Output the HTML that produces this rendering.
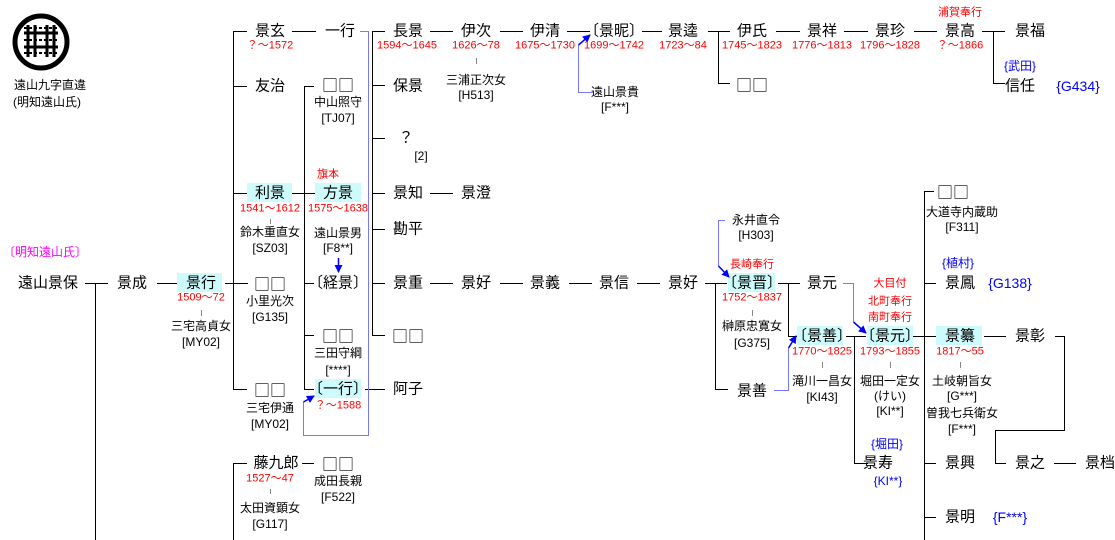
<!DOCTYPE html>
<html><head><meta charset="utf-8">
<style>
html,body{margin:0;padding:0;background:#fff;}
#c{position:relative;width:1115px;height:540px;overflow:hidden;font-family:"Liberation Sans","Noto Sans CJK JP",sans-serif;color:#000;}
.t{position:absolute;transform:translate(-50%,-50%);white-space:nowrap;font-size:15px;line-height:1;}
.s{font-size:12px;}
.r{color:#f00;font-size:11px;}
.b{color:#00f;font-size:12px;}
.bb{color:#00f;font-size:14px;}
.m{color:#f0f;font-size:12px;}
.q{font-family:"Noto Sans CJK JP",sans-serif;font-size:16px;}
.bx{position:absolute;background:#cdfafa;}
svg{position:absolute;left:0;top:0;}
</style></head><body><div id="c">
<div class="bx" style="left:177px;top:273px;width:45px;height:19px"></div>
<div class="bx" style="left:247px;top:183px;width:45px;height:19px"></div>
<div class="bx" style="left:315px;top:183px;width:46px;height:19px"></div>
<div class="bx" style="left:315px;top:379px;width:46px;height:19px"></div>
<div class="bx" style="left:728px;top:273px;width:47px;height:19px"></div>
<div class="bx" style="left:797px;top:326px;width:46px;height:19px"></div>
<div class="bx" style="left:867px;top:326px;width:46px;height:19px"></div>
<div class="bx" style="left:936px;top:326px;width:46px;height:19px"></div>
<svg width="1115" height="540" viewBox="0 0 1115 540">
<defs><marker id="a" markerWidth="8" markerHeight="8" refX="7" refY="4" orient="auto" markerUnits="userSpaceOnUse"><path d="M0,0 L8,4 L0,8 z" fill="#00f"/></marker></defs>
<circle cx="41" cy="42" r="26" fill="none" stroke="#000" stroke-width="5"/>
<g stroke="#000" stroke-width="3">
<line x1="28" y1="25" x2="28" y2="57"/><line x1="35" y1="25" x2="35" y2="57"/><line x1="47" y1="25" x2="47" y2="57"/><line x1="54" y1="25" x2="54" y2="57"/>
<line x1="24" y1="33" x2="58" y2="33"/><line x1="24" y1="47" x2="58" y2="47"/>
</g>
<g stroke="#000" stroke-width="2" stroke-dasharray="3,2">
<line x1="24" y1="28" x2="58" y2="28"/><line x1="24" y1="40" x2="58" y2="40"/><line x1="24" y1="53" x2="58" y2="53"/>
</g>
<g stroke="#000" stroke-width="1" fill="none">
<path d="M85,283.5H108M95.5,283V540M157,283.5H177M225,283.5H248"/>
<path d="M233.5,31V389M233,31.5H247M233,86.5H247M233,193.5H247M233,389.5H247M233.5,463V540M233,463.5H247"/>
<path d="M292,31.5H316M292,193.5H315M302,463.5H314"/>
<path d="M304.5,86V389M304,86.5H314M304,283.5H314M304,335.5H314M304,389.5H314"/>
<path d="M372.5,31V335M372,31.5H385M372,85.5H385M372,138.5H385M372,193.5H385M372,229.5H385M372,283.5H385M372,335.5H385M365,389.5H385"/>
<path d="M430,31.5H453M500,31.5H523M567,31.5H590M642,31.5H662M708,31.5H730M718.5,31V83M718,83.5H730"/>
<path d="M776,31.5H800M844,31.5H868M914,31.5H937M982,31.5H1005M993.5,31V83M993,83.5H1005"/>
<path d="M430,193.5H453"/>
<path d="M430,283.5H453M500,283.5H523M569,283.5H592M637,283.5H660M705,283.5H727M715.5,283V389M715,389.5H728"/>
<path d="M778,283.5H800M788.5,283V336M788,336.5H797M846,336.5H866M854.5,336V463M854,463.5H868"/>
<path d="M913,336.5H936M924.5,191V540M924,191.5H934M924,283.5H936M924,463.5H936M924,517.5H936"/>
<path d="M984,336.5H1006M1055,336.5H1064.5V430.5H995.5V463.5H1006M1054,463.5H1076"/>
</g>
<g stroke="#888" stroke-width="1">
<path d="M201.5,310V316M270.5,219V224M476.5,58V64M752.5,310V316M270.5,489V494M822.5,362V368M890.5,362V368M960.5,362V368"/>
</g>
<g stroke="#77f" stroke-width="1" fill="none">
<path d="M360,31.5H368.5V435.5H303.5V402" />
<path d="M593,92.5H578.5V45" />
<path d="M725,220.5H718.5V266" />
<path d="M774,390.5H788.5V348" />
<path d="M843,283.5H853.5V322" />
</g>
<g stroke="#00f" stroke-width="1.5" fill="none">
<line x1="303.5" y1="402" x2="314" y2="396" marker-end="url(#a)"/>
<line x1="578.5" y1="45" x2="590" y2="35" marker-end="url(#a)"/>
<line x1="718.5" y1="266" x2="729" y2="277" marker-end="url(#a)"/>
<line x1="788.5" y1="348" x2="796" y2="336" marker-end="url(#a)"/>
<line x1="853.5" y1="322" x2="866" y2="333" marker-end="url(#a)"/>
<line x1="338.5" y1="258" x2="338.5" y2="272" marker-end="url(#a)"/>
</g>
</svg>
<div class="t s" style="left:50px;top:85px">遠山九字直違</div>
<div class="t s" style="left:47px;top:102px">(明知遠山氏)</div>
<div class="t m" style="left:45px;top:252px">〔明知遠山氏〕</div>

<div class="t" style="left:48px;top:283px">遠山景保</div>
<div class="t" style="left:132px;top:283px">景成</div>
<div class="t" style="left:201px;top:283px">景行</div>
<div class="t r" style="left:201px;top:298px">1509〜72</div>
<div class="t s" style="left:201px;top:326px">三宅高貞女</div>
<div class="t s" style="left:201px;top:342px">[MY02]</div>

<div class="t" style="left:270px;top:31px">景玄</div>
<div class="t r" style="left:270px;top:46px">？〜1572</div>
<div class="t" style="left:270px;top:86px">友治</div>
<div class="t" style="left:270px;top:193px">利景</div>
<div class="t r" style="left:270px;top:209px">1541〜1612</div>
<div class="t s" style="left:270px;top:232px">鈴木重直女</div>
<div class="t s" style="left:270px;top:248px">[SZ03]</div>
<div class="t q" style="left:270px;top:283px">□□</div>
<div class="t s" style="left:270px;top:301px">小里光次</div>
<div class="t s" style="left:270px;top:317px">[G135]</div>
<div class="t q" style="left:270px;top:389px">□□</div>
<div class="t s" style="left:270px;top:408px">三宅伊通</div>
<div class="t s" style="left:270px;top:424px">[MY02]</div>
<div class="t" style="left:276px;top:463px">藤九郎</div>
<div class="t r" style="left:270px;top:479px">1527〜47</div>
<div class="t s" style="left:270px;top:508px">太田資顕女</div>
<div class="t s" style="left:270px;top:524px">[G117]</div>

<div class="t" style="left:340px;top:31px">一行</div>
<div class="t q" style="left:338px;top:84px">□□</div>
<div class="t s" style="left:338px;top:102px">中山照守</div>
<div class="t s" style="left:338px;top:118px">[TJ07]</div>
<div class="t r" style="left:328px;top:175px">旗本</div>
<div class="t" style="left:338px;top:193px">方景</div>
<div class="t r" style="left:338px;top:209px">1575〜1638</div>
<div class="t s" style="left:338px;top:233px">遠山景男</div>
<div class="t s" style="left:338px;top:248px">[F8**]</div>
<div class="t" style="left:338px;top:283px">〔経景〕</div>
<div class="t q" style="left:338px;top:335px">□□</div>
<div class="t s" style="left:338px;top:353px">三田守綱</div>
<div class="t s" style="left:338px;top:370px">[****]</div>
<div class="t" style="left:338px;top:389px">〔一行〕</div>
<div class="t r" style="left:338px;top:406px">？〜1588</div>
<div class="t q" style="left:338px;top:463px">□□</div>
<div class="t s" style="left:338px;top:481px">成田長親</div>
<div class="t s" style="left:338px;top:497px">[F522]</div>

<div class="t" style="left:408px;top:31px">長景</div>
<div class="t r" style="left:407px;top:46px">1594〜1645</div>
<div class="t" style="left:408px;top:86px">保景</div>
<div class="t" style="left:406px;top:138px">？</div>
<div class="t s" style="left:421px;top:156px">[2]</div>
<div class="t" style="left:408px;top:193px">景知</div>
<div class="t" style="left:408px;top:229px">勘平</div>
<div class="t" style="left:408px;top:283px">景重</div>
<div class="t q" style="left:408px;top:335px">□□</div>
<div class="t" style="left:408px;top:389px">阿子</div>

<div class="t" style="left:476px;top:31px">伊次</div>
<div class="t r" style="left:476px;top:46px">1626〜78</div>
<div class="t s" style="left:476px;top:80px">三浦正次女</div>
<div class="t s" style="left:476px;top:95px">[H513]</div>
<div class="t" style="left:545px;top:31px">伊清</div>
<div class="t r" style="left:545px;top:46px">1675〜1730</div>
<div class="t" style="left:614px;top:31px">〔景昵〕</div>
<div class="t r" style="left:614px;top:46px">1699〜1742</div>
<div class="t s" style="left:615px;top:92px">遠山景貴</div>
<div class="t s" style="left:615px;top:107px">[F***]</div>
<div class="t" style="left:683px;top:31px">景逵</div>
<div class="t r" style="left:683px;top:46px">1723〜84</div>
<div class="t" style="left:752px;top:31px">伊氏</div>
<div class="t r" style="left:752px;top:46px">1745〜1823</div>
<div class="t q" style="left:752px;top:84px">□□</div>
<div class="t" style="left:822px;top:31px">景祥</div>
<div class="t r" style="left:822px;top:46px">1776〜1813</div>
<div class="t" style="left:890px;top:31px">景珍</div>
<div class="t r" style="left:890px;top:46px">1796〜1828</div>
<div class="t r" style="left:960px;top:13px">浦賀奉行</div>
<div class="t" style="left:960px;top:31px">景高</div>
<div class="t r" style="left:960px;top:46px">？〜1866</div>
<div class="t" style="left:1030px;top:31px">景福</div>
<div class="t b" style="left:1020px;top:66px">{武田}</div>
<div class="t" style="left:1020px;top:86px">信任</div>
<div class="t bb" style="left:1078px;top:86px">{G434}</div>

<div class="t" style="left:476px;top:193px">景澄</div>
<div class="t" style="left:476px;top:283px">景好</div>
<div class="t" style="left:545px;top:283px">景義</div>
<div class="t" style="left:614px;top:283px">景信</div>
<div class="t" style="left:683px;top:283px">景好</div>

<div class="t s" style="left:756px;top:220px">永井直令</div>
<div class="t s" style="left:756px;top:235px">[H303]</div>
<div class="t r" style="left:752px;top:265px">長崎奉行</div>
<div class="t" style="left:752px;top:283px">〔景晋〕</div>
<div class="t r" style="left:752px;top:298px">1752〜1837</div>
<div class="t s" style="left:752px;top:326px">榊原忠寛女</div>
<div class="t s" style="left:752px;top:343px">[G375]</div>
<div class="t" style="left:752px;top:391px">景善</div>
<div class="t" style="left:822px;top:283px">景元</div>
<div class="t" style="left:822px;top:336px">〔景善〕</div>
<div class="t r" style="left:822px;top:352px">1770〜1825</div>
<div class="t s" style="left:822px;top:381px">滝川一昌女</div>
<div class="t s" style="left:822px;top:397px">[KI43]</div>

<div class="t r" style="left:890px;top:284px">大目付</div>
<div class="t r" style="left:890px;top:302px">北町奉行</div>
<div class="t r" style="left:890px;top:318px">南町奉行</div>
<div class="t" style="left:890px;top:336px">〔景元〕</div>
<div class="t r" style="left:890px;top:352px">1793〜1855</div>
<div class="t s" style="left:890px;top:381px">堀田一定女</div>
<div class="t s" style="left:890px;top:396px">(けい)</div>
<div class="t s" style="left:890px;top:411px">[KI**]</div>
<div class="t b" style="left:887px;top:444px">{堀田}</div>
<div class="t" style="left:878px;top:463px">景寿</div>
<div class="t b" style="left:888px;top:481px">{KI**}</div>

<div class="t q" style="left:953px;top:191px">□□</div>
<div class="t s" style="left:962px;top:212px">大道寺内蔵助</div>
<div class="t s" style="left:962px;top:227px">[F311]</div>
<div class="t b" style="left:958px;top:263px">{植村}</div>
<div class="t" style="left:960px;top:283px">景鳳</div>
<div class="t bb" style="left:1010px;top:283px">{G138}</div>
<div class="t" style="left:960px;top:336px">景纂</div>
<div class="t r" style="left:960px;top:352px">1817〜55</div>
<div class="t s" style="left:962px;top:381px">土岐朝旨女</div>
<div class="t s" style="left:962px;top:396px">[G***]</div>
<div class="t s" style="left:962px;top:413px">曽我七兵衛女</div>
<div class="t s" style="left:962px;top:429px">[F***]</div>
<div class="t" style="left:960px;top:463px">景興</div>
<div class="t" style="left:960px;top:517px">景明</div>
<div class="t bb" style="left:1010px;top:517px">{F***}</div>
<div class="t" style="left:1030px;top:336px">景彰</div>
<div class="t" style="left:1030px;top:463px">景之</div>
<div class="t" style="left:1100px;top:463px">景档</div>
</div></body></html>
